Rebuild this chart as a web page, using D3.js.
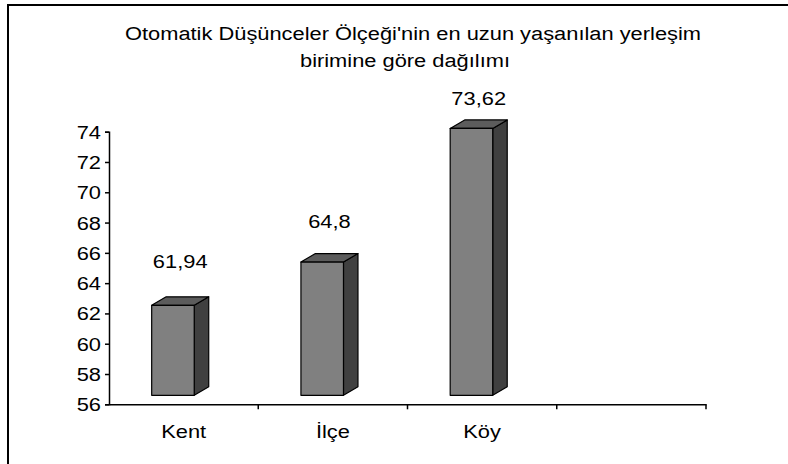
<!DOCTYPE html>
<html>
<head>
<meta charset="utf-8">
<script src="https://cdn.jsdelivr.net/npm/d3@7"></script>
<style>
  body { margin: 0; background: #fff; }
  svg { display: block; font-family: "Liberation Sans", Arial, sans-serif; }
</style>
</head>
<body>
<svg id="chart" width="788" height="464"></svg>
<script>
// chart data
var categories = ["Kent", "İlçe", "Köy", ""];
var values = [61.94, 64.8, 73.62];
var valueLabels = ["61,94", "64,8", "73,62"];
var yTicks = [56, 58, 60, 62, 64, 66, 68, 70, 72, 74];
var titleLines = ["Otomatik Düşünceler Ölçeği'nin en uzun yaşanılan yerleşim", "birimine göre dağılımı"];

var svg = d3.select("#chart");
var fontSize = 19, stretch = 1.15;
var depthX = 14.5, depthY = 8.5, floorOff = 9;

// outer frame (right and bottom edges fall outside the picture)
svg.append("rect")
    .attr("x", 8).attr("y", 5)
    .attr("width", 820).attr("height", 480)
    .attr("fill", "#fff").attr("stroke", "#000").attr("stroke-width", 2);

function label(x, y, txt, anchor) {
    return svg.append("text")
        .attr("transform", "translate(" + x + "," + y + ") scale(" + stretch + ",1)")
        .attr("text-anchor", anchor || "middle")
        .style("font-size", fontSize + "px")
        .attr("fill", "#000")
        .text(txt);
}

// title
label(413, 40, titleLines[0]);
label(405, 67, titleLines[1]);

var x = d3.scaleBand().domain(categories).range([109, 706]).paddingInner(0).paddingOuter(0);
var y = d3.scaleLinear().domain([56, 74]).range([404.3, 131.7]);
// Excel puts the data labels on a slightly different (perspective) scale
var yLab = d3.scaleLinear().domain([56, 74]).range([351, 100]);

// bars
var bw = x.bandwidth();
values.forEach(function (v, i) {
    var c = categories[i];
    var x0 = x(c) + bw * 0.286, x1 = x0 + bw * 0.285;
    var yt = y(v) - floorOff, yb = y(56) - floorOff;
    var g = svg.append("g").attr("stroke", "#000").attr("stroke-width", 1.2).attr("stroke-linejoin", "round");
    g.append("polygon")
        .attr("points", [[x1, yt], [x1 + depthX, yt - depthY], [x1 + depthX, yb - depthY], [x1, yb]].join(" "))
        .attr("fill", "#404040");
    g.append("polygon")
        .attr("points", [[x0, yt], [x0 + depthX, yt - depthY], [x1 + depthX, yt - depthY], [x1, yt]].join(" "))
        .attr("fill", "#5c5c5c");
    g.append("rect")
        .attr("x", x0).attr("y", yt)
        .attr("width", x1 - x0).attr("height", yb - yt)
        .attr("fill", "#808080");
    label((x0 + x1 + depthX) / 2, yLab(v), valueLabels[i]);
});

// y axis
var yAxis = svg.append("g")
    .attr("transform", "translate(109,0)")
    .call(d3.axisLeft(y).tickValues(yTicks).tickSize(4).tickPadding(4).tickFormat(d3.format("d")));
yAxis.selectAll("path, line").attr("stroke", "#000").attr("stroke-width", 1.5);
yAxis.selectAll("text").remove();
yTicks.forEach(function (t) {
    label(101, y(t) + 7, String(t), "end");
});

// x axis
var xAxis = svg.append("g")
    .attr("transform", "translate(0," + y(56) + ")")
    .call(d3.axisBottom(x).tickSize(0).tickFormat(""));
xAxis.selectAll("path").attr("stroke", "#000").attr("stroke-width", 1.5);
xAxis.selectAll(".tick").remove();
categories.forEach(function (c, i) {
    xAxis.append("line")
        .attr("x1", x(c) + bw).attr("x2", x(c) + bw)
        .attr("y1", 0).attr("y2", 5)
        .attr("stroke", "#000").attr("stroke-width", 1.5);
    if (c) label(x(c) + bw / 2, y(56) + 34, c);
});
</script>
</body>
</html>
